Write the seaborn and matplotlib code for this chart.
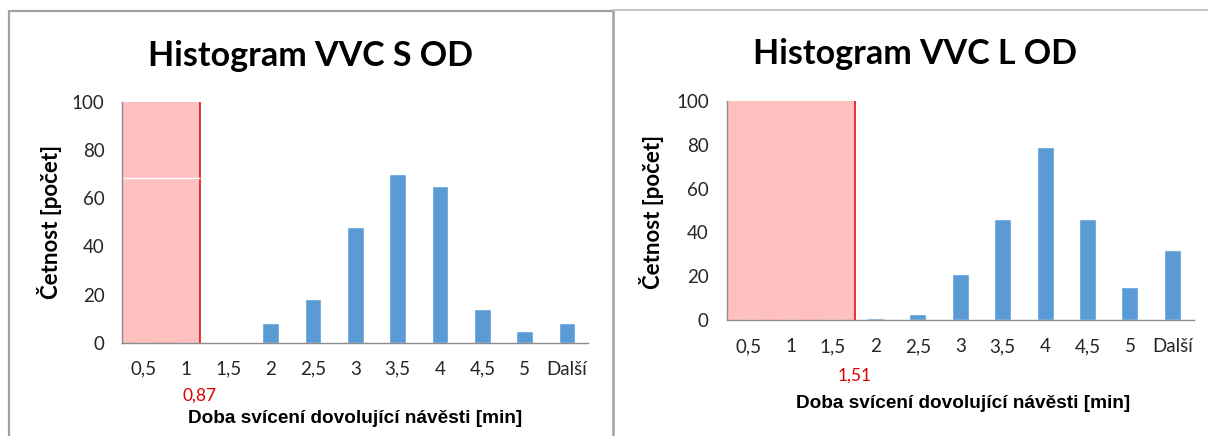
import matplotlib
matplotlib.use('Agg')
import matplotlib.pyplot as plt
import matplotlib.transforms as mtransforms
from matplotlib.lines import Line2D
import numpy as np
import seaborn as sns

# histogram bins (same for both charts)
bins = ['0,5', '1', '1,5', '2', '2,5', '3', '3,5', '4', '4,5', '5', 'Další']

# counts
counts_s = [0, 0, 0, 8, 18, 48, 70, 65, 14, 5, 8]
counts_l = [0, 0, 0, 1, 3, 21, 46, 79, 46, 15, 32]

titles = ['Histogram VVC S OD', 'Histogram VVC L OD']
limit_labels = ['0,87', '1,51']
# limit position in category units (left edge of first bin = 0)
limit_pos = [1.82, 3.02]

xlabel = 'Doba svícení dovolující návěsti [min]'
ylabel = 'Četnost [počet]'

BLUE = '#5B9BD5'
PINK = '#FFC0C0'
RED = '#E00000'
AXIS = '#8C8C8C'
TEXT = '#262626'

sns.set_style('white')
plt.rcParams['font.family'] = ['Lato', 'DejaVu Sans']

W, H = 1208, 436
fig = plt.figure(figsize=(W / 100, H / 100), dpi=100)


def px(x, y):
    return x / W, 1 - y / H


def draw_hist(ax, counts, lim, lim_label, lim_label_y):
    sns.barplot(x=bins, y=counts, color=BLUE, saturation=1, width=0.4, ax=ax, zorder=3)
    edge = -0.5 + lim
    ax.axvspan(-0.5, edge, ymin=0, ymax=1, color=PINK, lw=0, zorder=1)
    ax.vlines(edge, 0, 100, color=RED, lw=1.1, zorder=2)

    ax.set_xlim(-0.5, len(bins) - 0.5)
    ax.set_ylim(0, 100)
    ax.set_yticks(range(0, 101, 20))
    ax.set_xlabel('')
    ax.set_ylabel('')

    sns.despine(ax=ax)
    for s in ['left', 'bottom']:
        ax.spines[s].set_color(AXIS)
        ax.spines[s].set_linewidth(1.0)
        ax.spines[s].set_zorder(4)

    ax.set_xticks(np.arange(-0.5, len(bins), 1), minor=True)
    ax.tick_params(axis='x', which='major', length=0, pad=13, labelsize=13.5, labelcolor=TEXT)
    ax.tick_params(axis='x', which='minor', length=5.5, width=1, color=AXIS, direction='out')
    ax.tick_params(axis='y', which='major', length=6, width=1, color=AXIS, direction='out',
                   pad=7, labelsize=13.5, labelcolor=TEXT)

    tr = mtransforms.blended_transform_factory(ax.transData, fig.transFigure)
    ax.text(edge, 1 - lim_label_y / H, lim_label, transform=tr, color=RED, fontsize=12.5,
            ha='center', va='center')
    return edge


ax1 = fig.add_axes([0.1014, 0.214, 0.3855, 0.5527])
edge1 = draw_hist(ax1, counts_s, limit_pos[0], limit_labels[0], 396)
# thin white streak across the shaded area
ax1.hlines(68.2, -0.5, edge1, color='white', lw=1, zorder=2)

ax2 = fig.add_axes([0.6017, 0.2654, 0.3864, 0.5037])
draw_hist(ax2, counts_l, limit_pos[1], limit_labels[1], 376)

# titles and axis labels
fig.text(*px(311, 56), titles[0], ha='center', va='center', fontsize=24.5, fontweight='bold', color='black')
fig.text(*px(915, 54), titles[1], ha='center', va='center', fontsize=24.5, fontweight='bold', color='black')

fig.text(*px(50, 222), ylabel, rotation=90, ha='center', va='center', fontsize=16,
         fontweight='bold', color='black')
fig.text(*px(652, 212), ylabel, rotation=90, ha='center', va='center', fontsize=16,
         fontweight='bold', color='black')

fig.text(*px(355, 418), xlabel, ha='center', va='center', fontsize=13.7, fontweight='bold',
         family='Liberation Sans', color='black')
fig.text(*px(963, 403), xlabel, ha='center', va='center', fontsize=13.7, fontweight='bold',
         family='Liberation Sans', color='black')

# panel frames
frame = '#A0A0A0'
fig.add_artist(Line2D([9 / W, 9 / W, 613 / W], [0, 1 - 11 / H, 1 - 11 / H],
                      transform=fig.transFigure, color=frame, lw=1.6))
fig.add_artist(Line2D([613 / W, 613 / W], [0, 1 - 11 / H],
                      transform=fig.transFigure, color=frame, lw=1.8))
fig.add_artist(Line2D([613 / W, 1], [1 - 10 / H, 1 - 10 / H],
                      transform=fig.transFigure, color='#C4C4C4', lw=1.4))

fig.savefig('out.png', dpi=100)
